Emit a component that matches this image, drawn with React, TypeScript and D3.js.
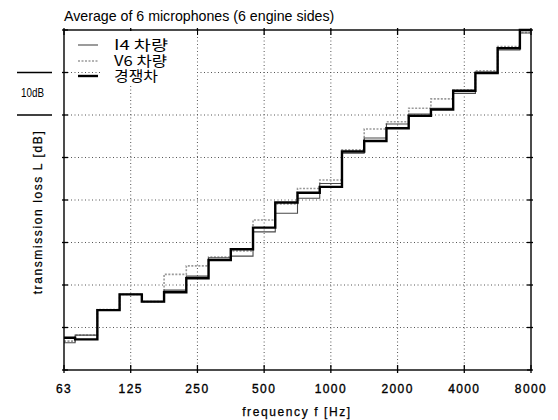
import React from "react";
import * as d3 from "d3";

// One-third-octave band centre labels, 63 Hz .. 8 kHz
const bandLabels = [
  "63", "80", "100", "125", "160", "200", "250", "315", "400", "500", "630",
  "800", "1000", "1250", "1600", "2000", "2500", "3150", "4000", "5000", "6300", "8000",
];

// Transmission loss per band, relative dB (one grid step = 10 dB)
const i4Values = [
  6.4, 8.2, 14.0, 17.8, 16.1, 18.8, 22.1, 26.4, 26.8, 32.5, 36.9,
  40.4, 43.9, 51.0, 54.6, 57.9, 60.2, 61.6, 65.1, 70.1, 75.3, 79.3,
];
const v6Values = [
  6.8, 8.2, 14.2, 17.8, 16.1, 22.5, 24.5, 26.6, 28.0, 35.3, 39.1,
  42.7, 44.7, 51.8, 56.7, 58.4, 61.6, 63.8, 65.9, 70.4, 76.1, 79.4,
];
const rivalValues = [
  7.6, 7.2, 14.1, 17.8, 16.1, 18.3, 21.6, 25.9, 28.4, 33.5, 39.4,
  41.7, 43.1, 51.4, 53.9, 56.9, 59.8, 61.3, 65.7, 69.9, 75.7, 80.0,
];

const octaveTicks = [62.5, 125, 250, 500, 1000, 2000, 4000, 8000];
const octaveLabels = ["63", "125", "250", "500", "1000", "2000", "4000", "8000"];
const levelTicks = [0, 10, 20, 30, 40, 50, 60, 70, 80];

const seriesNames = ["I4 차량", "V6 차량", "경쟁차"];

const W = 558;
const H = 420;
const plot = { left: 64, right: 531, top: 30, bottom: 370 };

const x = d3.scaleLog().base(2).domain([62.5, 8000]).range([plot.left, plot.right]);
const y = d3.scaleLinear().domain([0, 80]).range([plot.bottom, plot.top]);

// exact band centres: 1000 Hz * 2^(n/3)
const bandCenters = bandLabels.map((_, i) => 1000 * Math.pow(2, (i - 12) / 3));

function stepPoints(values: number[]): [number, number][] {
  const pts: [number, number][] = [];
  values.forEach((v, i) => {
    const f = bandCenters[i];
    const lo = Math.max(62.5, f / Math.pow(2, 1 / 6));
    const hi = Math.min(8000, f * Math.pow(2, 1 / 6));
    pts.push([x(lo), y(v)], [x(hi), y(v)]);
  });
  return pts;
}

const lineGen = d3.line<[number, number]>().x((d) => d[0]).y((d) => d[1]);

const styles = [
  { stroke: "#4a4a4a", width: 1.1, dash: "none" },
  { stroke: "#9a9a9a", width: 1.6, dash: "2 1.5" },
  { stroke: "#000", width: 2.4, dash: "none" },
];

const legendRows = [45, 61, 76];
const legendWidths = [54, 53, 44];

export default function App() {
  const data = [i4Values, v6Values, rivalValues];
  const font = "'Liberation Sans', Arial, sans-serif";
  const kfont = "'Noto Sans CJK KR', 'Liberation Sans', sans-serif";
  return (
    <svg
      width={W}
      height={H}
      style={{ position: "absolute", left: 0, top: 0, background: "#fff" }}
      fontFamily={font}
    >
      <rect x={0} y={0} width={W} height={H} fill="#fff" />

      {/* dotted grid */}
      <g stroke="#555" strokeWidth={1} strokeDasharray="1 2.5">
        {octaveTicks.slice(1, -1).map((t) => (
          <line key={"gx" + t} x1={x(t)} x2={x(t)} y1={plot.top} y2={plot.bottom} />
        ))}
        {levelTicks.slice(1, -1).map((t) => (
          <line key={"gy" + t} x1={plot.left} x2={plot.right} y1={y(t)} y2={y(t)} />
        ))}
      </g>

      {/* ticks on all four sides */}
      <g stroke="#000" strokeWidth={1.3}>
        {octaveTicks.map((t) => (
          <g key={"tx" + t}>
            <line x1={x(t)} x2={x(t)} y1={plot.bottom + 3} y2={plot.bottom - 5} />
            <line x1={x(t)} x2={x(t)} y1={plot.top - 2} y2={plot.top + 5} />
          </g>
        ))}
        {levelTicks.map((t) => (
          <g key={"ty" + t}>
            <line x1={plot.left - 2} x2={plot.left + 4} y1={y(t)} y2={y(t)} />
            <line x1={plot.right + 2} x2={plot.right - 4} y1={y(t)} y2={y(t)} />
          </g>
        ))}
      </g>

      {/* step curves */}
      <g fill="none">
        {[1, 0, 2].map((k) => (
          <path
            key={"s" + k}
            d={lineGen(stepPoints(data[k])) || ""}
            stroke={styles[k].stroke}
            strokeWidth={styles[k].width}
            strokeDasharray={styles[k].dash}
          />
        ))}
      </g>

      {/* frame */}
      <rect
        x={plot.left}
        y={plot.top}
        width={plot.right - plot.left}
        height={plot.bottom - plot.top}
        fill="none"
        stroke="#000"
        strokeWidth={1.4}
      />

      {/* legend */}
      <rect x={100} y={31} width={97} height={53} fill="#fff" />
      {seriesNames.map((name, k) => {
        const cy = legendRows[k];
        return (
          <g key={"lg" + k}>
            <line
              x1={78}
              x2={98}
              y1={cy}
              y2={cy}
              stroke={styles[k].stroke}
              strokeWidth={styles[k].width}
              strokeDasharray={styles[k].dash}
            />
            <text
              x={114}
              y={cy + 5}
              fontSize={14}
              fontFamily={kfont}
              textLength={legendWidths[k]}
              lengthAdjust="spacingAndGlyphs"
              fill="#000"
            >
              {name}
            </text>
          </g>
        );
      })}

      {/* title */}
      <text x={64} y={21} fontSize={14.2} fill="#000">
        Average of 6 microphones (6 engine sides)
      </text>

      {/* 10 dB scale bar */}
      <g stroke="#000" strokeWidth={1.5}>
        <line x1={17} x2={52} y1={y(70)} y2={y(70)} />
        <line x1={17} x2={52} y1={y(60)} y2={y(60)} />
      </g>
      <text x={21} y={97} fontSize={13} textLength={23} lengthAdjust="spacingAndGlyphs" fill="#000">
        10dB
      </text>

      {/* x tick labels */}
      {octaveTicks.map((t, i) => (
        <text
          key={"lx" + t}
          x={x(t)}
          y={392.5}
          fontSize={12}
          letterSpacing={1.4}
          textAnchor="middle"
          fill="#000"
          stroke="#000"
          strokeWidth={0.35}
        >
          {octaveLabels[i]}
        </text>
      ))}

      <text
        x={297}
        y={416}
        fontSize={12}
        letterSpacing={1.6}
        textAnchor="middle"
        fill="#000"
        stroke="#000"
        strokeWidth={0.25}
      >
        frequency f [Hz]
      </text>

      <text
        transform={`translate(42, 212) rotate(-90)`}
        fontSize={12}
        letterSpacing={1.6}
        textAnchor="middle"
        fill="#000"
        stroke="#000"
        strokeWidth={0.25}
      >
        transmission loss L [dB]
      </text>
    </svg>
  );
}
